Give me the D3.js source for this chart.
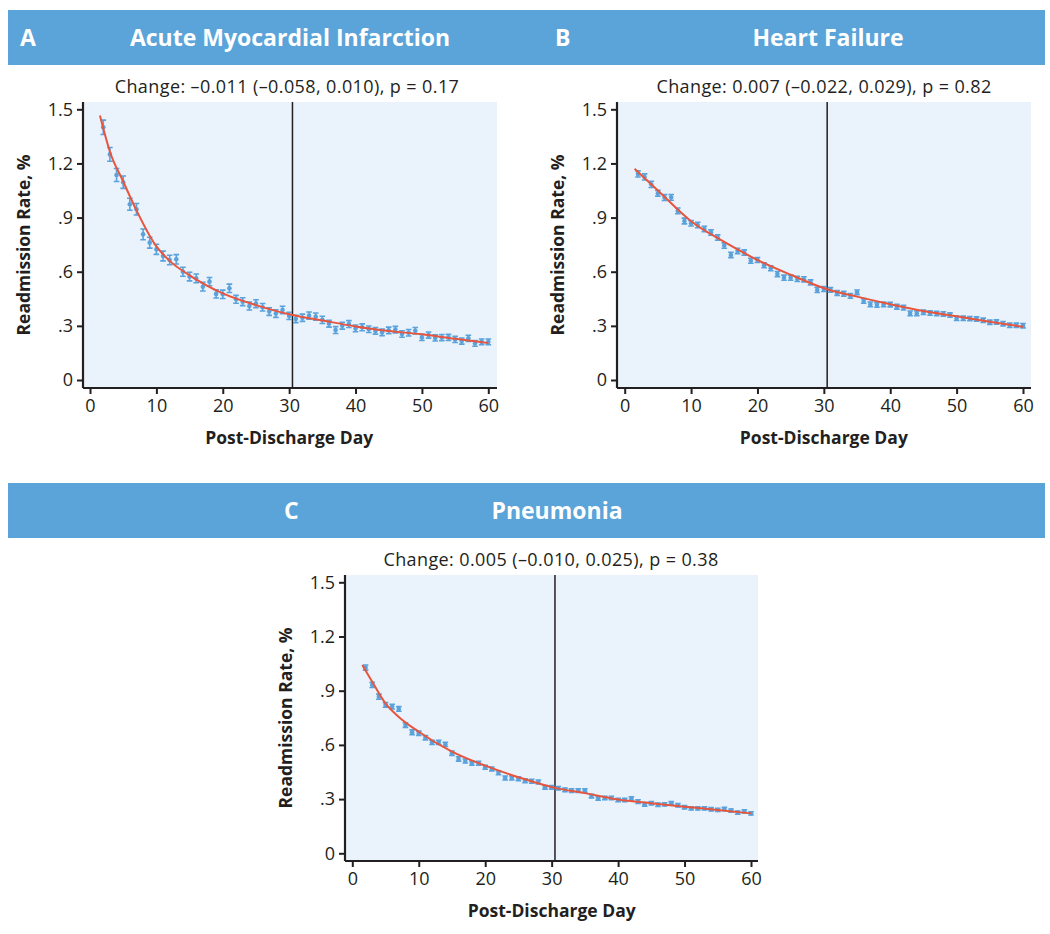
<!DOCTYPE html>
<html><head><meta charset="utf-8">
<script src="https://cdn.jsdelivr.net/npm/d3@7"></script>
<style>body{margin:0;background:#fff} svg{display:block} text{font-family:"Open Sans",sans-serif}</style>
</head><body><svg id="c" width="1050" height="934"></svg>
<script>
const days=[2,3,4,5,6,7,8,9,10,11,12,13,14,15,16,17,18,19,20,21,22,23,24,25,26,27,28,29,30,31,32,33,34,35,36,37,38,39,40,41,42,43,44,45,46,47,48,49,50,51,52,53,54,55,56,57,58,59,60];
const xTicks=[0,10,20,30,40,50,60];
const yTicks=[0,0.3,0.6,0.9,1.2,1.5];
const yTickLabels=["0",".3",".6",".9","1.2","1.5"];
const cutoffDay=30.5;

const amiRate=[1.40,1.25,1.136,1.096,0.974,0.946,0.807,0.761,0.724,0.687,0.665,0.669,0.600,0.573,0.563,0.517,0.545,0.477,0.475,0.508,0.447,0.434,0.410,0.423,0.403,0.379,0.368,0.388,0.355,0.338,0.345,0.357,0.351,0.333,0.312,0.277,0.301,0.310,0.286,0.292,0.281,0.272,0.264,0.275,0.279,0.255,0.262,0.273,0.236,0.249,0.233,0.235,0.236,0.225,0.216,0.231,0.203,0.211,0.211];
const amiErr=[0.040,0.038,0.036,0.034,0.033,0.032,0.030,0.030,0.028,0.027,0.026,0.026,0.025,0.024,0.024,0.024,0.023,0.023,0.023,0.023,0.022,0.022,0.022,0.022,0.021,0.021,0.021,0.021,0.020,0.020,0.020,0.020,0.020,0.020,0.019,0.019,0.019,0.019,0.019,0.019,0.018,0.018,0.018,0.018,0.018,0.018,0.018,0.018,0.017,0.017,0.017,0.017,0.017,0.017,0.017,0.017,0.016,0.016,0.016];
const amiFitDays=[1.5,3,5,7,10,12,15,20,25,30.5,35,40,45,50,55,60];
const amiFit=[1.465,1.265,1.10,0.94,0.74,0.66,0.58,0.48,0.415,0.36,0.33,0.297,0.272,0.253,0.228,0.205];

const hfRate=[1.142,1.125,1.084,1.035,1.011,1.012,0.937,0.881,0.868,0.859,0.837,0.817,0.789,0.745,0.693,0.715,0.706,0.661,0.665,0.636,0.619,0.587,0.567,0.567,0.560,0.558,0.541,0.499,0.504,0.499,0.482,0.478,0.466,0.486,0.438,0.419,0.416,0.419,0.418,0.406,0.401,0.369,0.369,0.375,0.371,0.368,0.366,0.360,0.342,0.342,0.340,0.338,0.331,0.320,0.321,0.312,0.303,0.303,0.301];
const hfErr=[0.017,0.017,0.017,0.016,0.016,0.016,0.016,0.016,0.015,0.015,0.015,0.015,0.015,0.015,0.015,0.015,0.015,0.014,0.014,0.014,0.014,0.014,0.014,0.014,0.014,0.014,0.014,0.014,0.014,0.013,0.013,0.013,0.013,0.013,0.013,0.013,0.013,0.013,0.013,0.013,0.013,0.013,0.013,0.012,0.012,0.012,0.012,0.012,0.012,0.012,0.012,0.012,0.012,0.012,0.012,0.012,0.012,0.012,0.012];
const hfFitDays=[1.5,5,10,15,20,25,30.5,35,40,45,50,55,60];
const hfFit=[1.17,1.05,0.88,0.765,0.665,0.583,0.503,0.462,0.42,0.382,0.353,0.323,0.295];

const pnRate=[1.028,0.932,0.867,0.821,0.812,0.799,0.710,0.670,0.664,0.640,0.614,0.614,0.603,0.554,0.522,0.511,0.498,0.498,0.476,0.467,0.446,0.417,0.417,0.413,0.402,0.399,0.395,0.365,0.365,0.360,0.351,0.347,0.347,0.347,0.317,0.304,0.306,0.306,0.295,0.295,0.303,0.286,0.271,0.277,0.269,0.271,0.277,0.266,0.255,0.249,0.249,0.249,0.244,0.240,0.245,0.236,0.225,0.232,0.221];
const pnErr=[0.014,0.014,0.014,0.013,0.013,0.013,0.013,0.013,0.012,0.012,0.012,0.012,0.012,0.012,0.012,0.011,0.011,0.011,0.011,0.011,0.011,0.011,0.011,0.011,0.011,0.011,0.011,0.010,0.010,0.010,0.010,0.010,0.010,0.010,0.010,0.010,0.010,0.010,0.010,0.010,0.010,0.010,0.010,0.009,0.009,0.009,0.009,0.009,0.009,0.009,0.009,0.009,0.009,0.009,0.009,0.009,0.009,0.009,0.009];
const pnFitDays=[1.5,3,5,7,10,15,20,25,30.5,35,40,45,50,55,60];
const pnFit=[1.042,0.95,0.83,0.755,0.673,0.563,0.485,0.421,0.362,0.333,0.298,0.277,0.258,0.240,0.221];

const svg=d3.select("#c");
const HEAD="#5ba4d9", BG="#eaf2fb", PT="#5aa2dc", FIT="#e8553e", INK="#231f20";

function header(y){
  svg.append("rect").attr("x",8).attr("y",y).attr("width",1037).attr("height",55).attr("fill",HEAD);
}
header(10); header(483);
function htext(x,y,t,anchor){
  svg.append("text").attr("x",x).attr("y",y).attr("fill","#fff").attr("font-size",23)
    .attr("font-weight",700).attr("text-anchor",anchor).text(t);
}
htext(20,46,"A","start"); htext(290,46,"Acute Myocardial Infarction","middle");
htext(555,46,"B","start"); htext(828,46,"Heart Failure","middle");
htext(284,519,"C","start"); htext(557,519,"Pneumonia","middle");

function panel(o){
  const g=svg.append("g");
  const x=d3.scaleLinear().domain([0,60]).range([o.x0,o.x1]);
  const y=d3.scaleLinear().domain([0,1.5]).range([o.y0,o.y1]);
  g.append("rect").attr("x",o.axL).attr("y",o.bgT).attr("width",o.bgR-o.axL).attr("height",o.axB-o.bgT).attr("fill",BG);
  g.append("text").attr("x",o.subX).attr("y",o.bgT-9).attr("text-anchor","middle")
    .attr("font-size",18).attr("letter-spacing",0.4).attr("fill",INK).text(o.sub);
  const ya=g.append("g").attr("transform",`translate(${o.axL},0)`)
    .call(d3.axisLeft(y).tickValues(yTicks).tickFormat((d,i)=>yTickLabels[i]).tickSize(6).tickPadding(4).tickSizeOuter(0));
  ya.select(".domain").attr("d",`M0,${o.bgT}V${o.axB}`);
  const xa=g.append("g").attr("transform",`translate(0,${o.axB})`)
    .call(d3.axisBottom(x).tickValues(xTicks).tickSize(6).tickPadding(5).tickSizeOuter(0));
  xa.select(".domain").attr("d",`M${o.axL},0H${o.bgR}`);
  [ya,xa].forEach(a=>{
    a.selectAll(".domain").attr("stroke",INK).attr("stroke-width",2.2);
    a.selectAll(".tick line").attr("stroke",INK).attr("stroke-width",2);
    a.selectAll(".tick text").attr("font-size",18).attr("fill",INK).attr("font-family","'Open Sans',sans-serif");
  });
  g.append("text").attr("transform",`translate(${o.axL-53},${(o.bgT+o.axB)/2}) rotate(-90)`)
    .attr("text-anchor","middle").attr("font-size",17.5).attr("font-weight",700).attr("fill",INK).text("Readmission Rate, %");
  g.append("text").attr("x",(o.x0+o.x1)/2).attr("y",o.axB+56).attr("text-anchor","middle")
    .attr("font-size",17.5).attr("font-weight",700).attr("fill",INK).text("Post-Discharge Day");
  g.append("line").attr("x1",x(cutoffDay)).attr("x2",x(cutoffDay)).attr("y1",o.bgT).attr("y2",o.axB)
    .attr("stroke",INK).attr("stroke-width",1.5);
  const pts=days.map((d,i)=>({d,v:o.rate[i],e:o.err[i]}));
  const eb=g.append("g").attr("stroke",PT).attr("stroke-width",1.6).attr("fill","none");
  pts.forEach(p=>{
    const cx=x(p.d), yt=y(p.v+p.e), yb=y(p.v-p.e);
    eb.append("path").attr("d",`M${cx-2.8},${yt}H${cx+2.8}M${cx},${yt}V${yb}M${cx-2.8},${yb}H${cx+2.8}`);
  });
  g.append("g").selectAll("circle").data(pts).join("circle")
    .attr("cx",p=>x(p.d)).attr("cy",p=>y(p.v)).attr("r",2.3).attr("fill",PT);
  const fit=o.fitDays.map((d,i)=>[d,o.fit[i]]);
  g.append("path").datum(fit).attr("fill","none").attr("stroke",FIT).attr("stroke-width",2)
    .attr("d",d3.line().x(p=>x(p[0])).y(p=>y(p[1])).curve(d3.curveMonotoneX));
}

panel({x0:90,x1:488.3,y0:380,y1:109.3,axL:83,axB:388,bgT:102,bgR:497,subX:287,
  sub:"Change: \u20130.011 (\u20130.058, 0.010), p = 0.17",rate:amiRate,err:amiErr,fitDays:amiFitDays,fit:amiFit});
panel({x0:624.7,x1:1023,y0:380,y1:109.3,axL:617,axB:388,bgT:102,bgR:1031,subX:824,
  sub:"Change: 0.007 (\u20130.022, 0.029), p = 0.82",rate:hfRate,err:hfErr,fitDays:hfFitDays,fit:hfFit});
panel({x0:352.3,x1:751,y0:853.3,y1:582.3,axL:345,axB:861,bgT:575,bgR:758,subX:551,
  sub:"Change: 0.005 (\u20130.010, 0.025), p = 0.38",rate:pnRate,err:pnErr,fitDays:pnFitDays,fit:pnFit});
</script></body></html>
